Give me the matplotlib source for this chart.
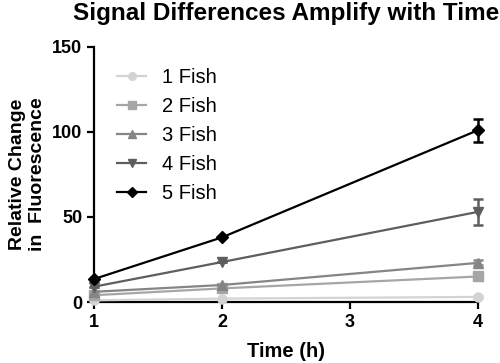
import matplotlib
matplotlib.use("Agg")
import matplotlib.pyplot as plt
from matplotlib.lines import Line2D

plt.rcParams["font.family"] = ["Liberation Sans", "DejaVu Sans"]

time_h = [1, 2, 4]
series_labels = ["1 Fish", "2 Fish", "3 Fish", "4 Fish", "5 Fish"]
fish1 = [1, 2, 3]
fish2 = [4, 8, 15]
fish3 = [6, 10, 23]
fish4 = [9, 23.5, 53]
fish5 = [13.5, 38, 101]
err1 = [0, 0, 0.5]
err2 = [0, 0, 2]
err3 = [0, 0, 1.5]
err4 = [0, 0, 7.5]
err5 = [0, 0, 6.8]

values = [fish1, fish2, fish3, fish4, fish5]
errors = [err1, err2, err3, err4, err5]
colors = ["#d3d3d3", "#a6a6a6", "#858585", "#5e5e5e", "#000000"]
markers = ["o", "s", "^", "v", "D"]

fig = plt.figure(figsize=(5.0, 3.63), dpi=100)
ax = fig.add_axes([0.188, 0.168, 0.768, 0.703])

handles = []
for lab, v, e, c, m in zip(series_labels, values, errors, colors, markers):
    ms = 6 if m == "D" else 6.5
    ax.errorbar(time_h, v, yerr=e, color=c, marker=m, markersize=ms,
                linewidth=1.6, elinewidth=1.8, capsize=3.5, capthick=1.8,
                clip_on=False, zorder=3)
    handles.append(Line2D([], [], color=c, marker=m, markersize=ms * 0.85,
                          linewidth=1.6, label=lab))

ax.set_xlim(1, 4)
ax.set_ylim(0, 150)
ax.set_xticks([1, 2, 3, 4])
ax.set_yticks([0, 50, 100, 150])
for s in ["top", "right"]:
    ax.spines[s].set_visible(False)
for s in ["left", "bottom"]:
    ax.spines[s].set_linewidth(1.6)
ax.tick_params(direction="out", width=1.6, length=5, labelsize=13)
for t in ax.get_xticklabels() + ax.get_yticklabels():
    t.set_fontweight("bold")

ax.set_xlabel("Time (h)", fontsize=14.5, fontweight="bold", labelpad=8)
ax.set_ylabel("Relative Change\nin  Fluorescence", fontsize=14, fontweight="bold",
              labelpad=4, linespacing=1.25)
ax.set_title("Signal Differences Amplify with Time", fontsize=17.5, fontweight="bold", pad=19)

ax.legend(handles=handles, loc="upper left", bbox_to_anchor=(0.04, 0.95), frameon=False,
          fontsize=14.5, handlelength=1.4, labelspacing=0.5, handletextpad=0.8,
          borderaxespad=0)

fig.savefig("out.png", dpi=100)
